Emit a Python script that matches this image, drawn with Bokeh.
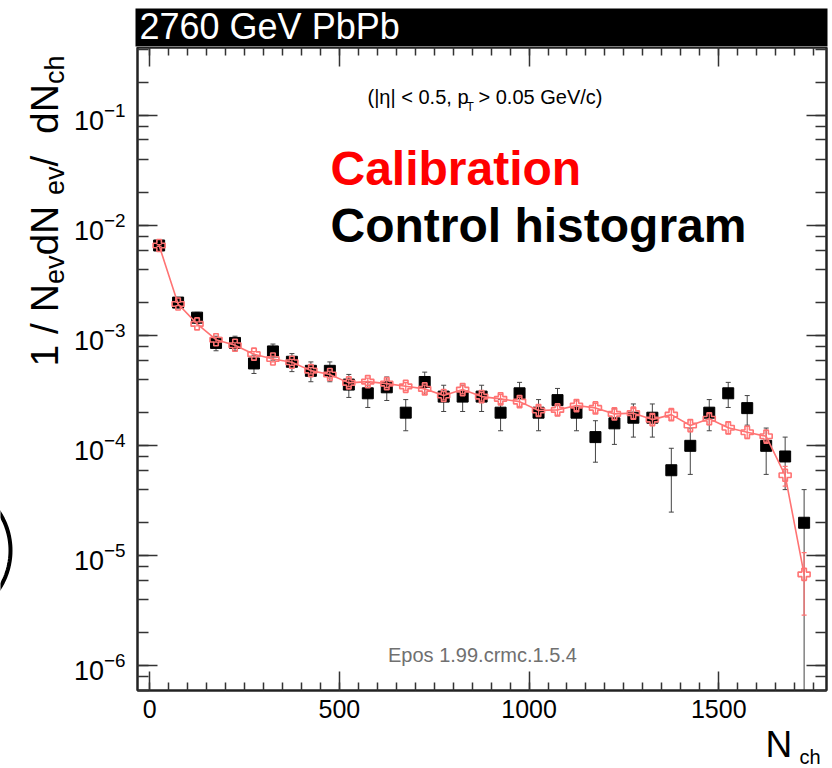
import numpy as np
from bokeh.plotting import figure
from bokeh.layouts import row, column
from bokeh.models import (Range1d, LinearAxis, LogAxis, SingleIntervalTicker, LogTicker,
                          LogTickFormatter, BoxAnnotation, Label, PolyAnnotation, ColumnDataSource)
from bokeh.embed import file_html
from bokeh.resources import INLINE

# ---------------- data ----------------
nch = [25, 75, 125, 175, 225, 275, 325, 375, 425, 475, 525, 575, 625, 675, 725, 775, 825,
       875, 925, 975, 1025, 1075, 1125, 1175, 1225, 1275, 1325, 1375, 1425, 1475, 1525,
       1575, 1625, 1675, 1725]

control = [6.6e-3, 2.0e-3, 1.46e-3, 8.6e-4, 8.6e-4, 5.6e-4, 7.2e-4, 5.8e-4, 4.8e-4, 4.8e-4,
           3.6e-4, 3.0e-4, 3.4e-4, 2.0e-4, 3.8e-4, 2.8e-4, 2.8e-4, 2.8e-4, 2.0e-4, 3.0e-4,
           2.0e-4, 2.6e-4, 2.0e-4, 1.2e-4, 1.6e-4, 1.8e-4, 1.8e-4, 6.0e-5, 1.0e-4, 2.0e-4,
           3.0e-4, 2.2e-4, 1.0e-4, 8.0e-5, 2.0e-5]
control_err = [3.6e-4, 2.0e-4, 1.7e-4, 1.3e-4, 1.3e-4, 1.06e-4, 1.2e-4, 1.08e-4, 9.8e-5, 9.8e-5,
               8.5e-5, 7.7e-5, 8.2e-5, 6.3e-5, 8.7e-5, 7.5e-5, 7.5e-5, 7.5e-5, 6.3e-5, 7.7e-5,
               6.3e-5, 7.2e-5, 6.3e-5, 4.9e-5, 5.7e-5, 6.0e-5, 6.0e-5, 3.5e-5, 4.5e-5, 6.3e-5,
               7.7e-5, 6.6e-5, 4.5e-5, 4.0e-5, 2.0e-5]

calib = [6.6e-3, 1.94e-3, 1.28e-3, 9.2e-4, 8.2e-4, 6.8e-4, 6.15e-4, 5.74e-4, 4.82e-4, 4.44e-4,
         3.73e-4, 3.83e-4, 3.67e-4, 3.47e-4, 3.29e-4, 2.86e-4, 3.24e-4, 2.8e-4, 2.67e-4, 2.52e-4,
         2.09e-4, 2.12e-4, 2.32e-4, 2.21e-4, 1.95e-4, 1.98e-4, 1.73e-4, 1.92e-4, 1.53e-4, 1.76e-4,
         1.46e-4, 1.33e-4, 1.22e-4, 5.4e-5, 6.8e-6]
calib_err = [1.2e-4, 6.6e-5, 5.4e-5, 4.6e-5, 4.3e-5, 3.9e-5, 3.7e-5, 3.6e-5, 3.3e-5, 3.2e-5,
             2.9e-5, 2.9e-5, 2.9e-5, 2.8e-5, 2.7e-5, 2.5e-5, 2.7e-5, 2.5e-5, 2.5e-5, 2.4e-5,
             2.2e-5, 2.2e-5, 2.3e-5, 2.2e-5, 2.1e-5, 2.1e-5, 2.0e-5, 2.1e-5, 1.9e-5, 2.0e-5,
             1.8e-5, 1.7e-5, 1.7e-5, 1.1e-5, 3.9e-6]

title_text = "2760 GeV PbPb"
calib_label = "Calibration"
control_label = "Control histogram"
generator_text = "Epos 1.99.crmc.1.5.4"
x_range = (-32, 1784)
y_range = (5.99e-7, 0.415)

FONT = "Liberation Sans"
RED_TXT = "#ff0000"
RED = "#ff7373"

W, H = 832, 768
LEFT_W = 70          # strip holding the y-axis title
TOP_H = 47           # strip holding the black title bar
BOTTOM_H = 38        # strip holding the x-axis title
MAIN_W = W - LEFT_W
MAIN_H = H - TOP_H - BOTTOM_H
FRAME_BOTTOM = 690   # page y of the main frame's bottom edge
FRAME_LEFT = 135
MID = 0.35           # labels are rendered centred on their anchor: shift from baseline


def strip(width, height, xr, yr):
    f = figure(width=width, height=height, output_backend="svg", toolbar_location=None,
               x_range=Range1d(*xr), y_range=Range1d(*yr),
               x_axis_location=None, y_axis_location=None,
               min_border=0, min_border_left=0, min_border_right=0,
               min_border_top=0, min_border_bottom=0, frame_align=False)
    f.outline_line_color = None
    f.background_fill_color = "white"
    f.border_fill_color = "white"
    f.xgrid.visible = False
    f.ygrid.visible = False
    return f


def add_text(fig, text, x, y, size, color="black", bold=False, angle=0.0, align="left",
             units="data"):
    fig.add_layout(Label(x=x, y=y, x_units=units, y_units=units, text=text,
                         text_font=FONT, text_font_size=f"{size}px", text_color=color,
                         text_font_style="bold" if bold else "normal", angle=angle,
                         text_align=align, text_baseline="alphabetic"))


def frame_text(text, page_x, page_baseline, size, **kw):
    """text inside the main frame, given by page pixel position of its baseline"""
    add_text(p, text, page_x - FRAME_LEFT, FRAME_BOTTOM - (page_baseline - MID * size), size,
             units="screen", **kw)


# ---------------- main figure ----------------
p = figure(width=MAIN_W, height=MAIN_H, output_backend="svg", toolbar_location=None,
           x_range=Range1d(*x_range), y_range=Range1d(*y_range), y_axis_type="log",
           min_border_left=FRAME_LEFT - LEFT_W, min_border_right=6, min_border_top=0,
           min_border_bottom=40, frame_align=False)
p.background_fill_color = "white"
p.border_fill_color = "white"
p.outline_line_color = "#222222"
p.outline_line_width = 2
p.xgrid.visible = False
p.ygrid.visible = False

xt = SingleIntervalTicker(interval=500, num_minor_ticks=10)


def style_axis(ax, major_in, minor_in, show_labels, font_size, standoff):
    ax.axis_line_color = "#222222"
    ax.axis_line_width = 2
    ax.major_tick_in = major_in
    ax.major_tick_out = 0
    ax.minor_tick_in = minor_in
    ax.minor_tick_out = 0
    ax.major_tick_line_color = "#333333"
    ax.minor_tick_line_color = "#333333"
    ax.major_tick_line_width = 1.5
    ax.minor_tick_line_width = 1.5
    ax.major_label_standoff = standoff
    if show_labels:
        ax.major_label_text_font = FONT
        ax.major_label_text_font_size = font_size
        ax.major_label_text_color = "black"
    else:
        ax.major_label_text_font_size = "0px"
        ax.major_label_text_color = None


xb = p.xaxis[0]
xb.ticker = xt
style_axis(xb, 19, 8, True, "25px", 9)
yl = p.yaxis[0]
yl.ticker = LogTicker()
yl.formatter = LogTickFormatter()
style_axis(yl, 20, 11, True, "27px", 12)

xa = LinearAxis(ticker=xt)
style_axis(xa, 19, 8, False, "0px", 0)
p.add_layout(xa, "above")
yr = LogAxis(ticker=LogTicker())
style_axis(yr, 20, 11, False, "0px", 0)
p.add_layout(yr, "right")

c = np.array(control)
ce = np.array(control_err)
r = np.array(calib)
re_ = np.array(calib_err)
x = np.array(nch, dtype=float)

src_c = ColumnDataSource(dict(x=x, y=c, lo=np.maximum(c - ce, 1e-12), hi=c + ce))
src_r = ColumnDataSource(dict(x=x, y=r, lo=np.maximum(r - re_, 1e-12), hi=r + re_))

p.segment(x0="x", y0="lo", x1="x", y1="hi", source=src_c, line_color="#444444", line_width=1)
p.scatter(x="x", y="hi", source=src_c, marker="dash", size=5, line_color="#444444", line_width=1)
p.scatter(x="x", y="lo", source=src_c, marker="dash", size=5, line_color="#444444", line_width=1)
p.scatter(x="x", y="y", source=src_c, marker="square", size=11, fill_color="black",
          line_color="black")

p.line(x="x", y="y", source=src_r, line_color=RED, line_width=1.6)
p.segment(x0="x", y0="lo", x1="x", y1="hi", source=src_r, line_color=RED, line_width=1.2)
p.scatter(x="x", y="hi", source=src_r, marker="dash", size=5, line_color=RED, line_width=1.2)
p.scatter(x="x", y="lo", source=src_r, marker="dash", size=5, line_color=RED, line_width=1.2)
p.scatter(x="x", y="y", source=src_r, marker="plus", size=12, fill_color=None,
          line_color=RED, line_width=1.6)

# texts inside the frame
frame_text("(|η| < 0.5, p", 365, 103, 20)
frame_text("T", 464, 111, 12)
frame_text("> 0.05 GeV/c)", 476, 103, 20)
frame_text(calib_label, 328, 185, 48, color=RED_TXT, bold=True)
frame_text(control_label, 328, 242, 48, bold=True)
frame_text(generator_text, 480, 661, 20, color="#707070", align="center")

# ---------------- top strip: black title bar (coordinates = page pixels) ----------------
top = strip(MAIN_W, TOP_H, (LEFT_W, W), (TOP_H, 0))
top.add_layout(BoxAnnotation(left=135, right=827, top=8, bottom=46,
                             fill_color="black", fill_alpha=1, line_color=None))
add_text(top, title_text, 139, 39 - MID * 36, 36, color="white")

# ---------------- bottom strip: x-axis title ----------------
bottom = strip(MAIN_W, BOTTOM_H, (LEFT_W, W), (H, H - BOTTOM_H))
add_text(bottom, "N", 765, 757 - MID * 37, 37)
add_text(bottom, "ch", 799, 763 - MID * 20, 20)

# ---------------- left strip: y-axis title and the cut circle ----------------
left = strip(LEFT_W, H, (0, LEFT_W), (H, 0))
# (text, page y where the piece starts, font size, page x of its baseline)
ypieces = [("1 / N", 366, 39, 58), ("ev", 283.6, 27, 64), (" dN", 255.1, 39, 58),
           ("ev", 194.4, 27, 64), (" / ", 165.9, 39, 58), ("dN", 133.4, 39, 58),
           ("ch", 83.6, 27, 64)]
for t, yy, s, xx in ypieces:
    add_text(left, t, xx - MID * s, yy, s, angle=np.pi / 2)

th = np.linspace(0, 2 * np.pi, 160)
left.add_layout(PolyAnnotation(xs=list(-60 + 70 * np.cos(th)), ys=list(550 + 70 * np.sin(th)),
                               fill_color=None, line_color="black", line_alpha=1.0,
                               line_width=4))

layout = row(left, column(top, p, bottom, spacing=0), spacing=0)
open("out.html", "w").write(file_html(layout, INLINE))
